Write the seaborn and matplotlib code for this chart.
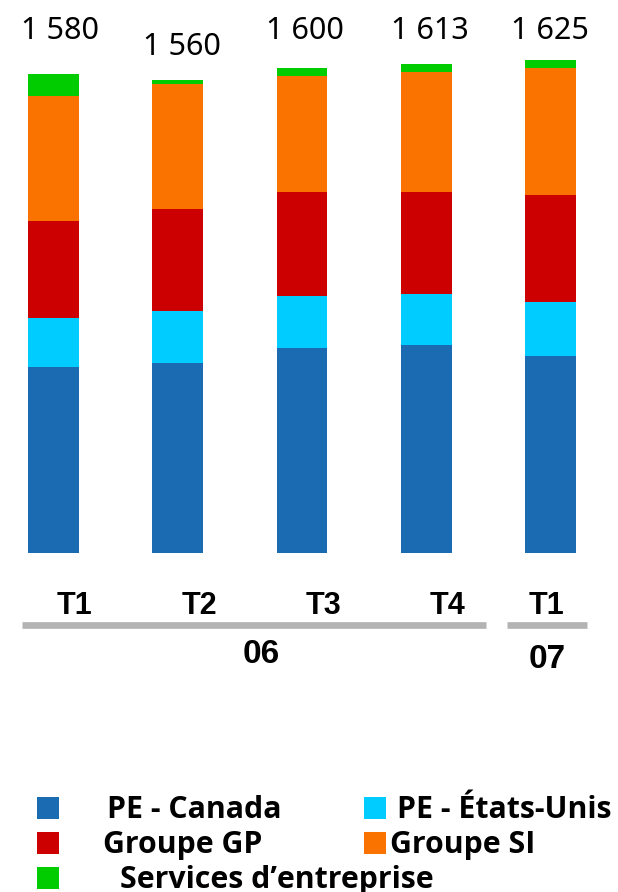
import matplotlib
matplotlib.use("Agg")
import matplotlib.pyplot as plt
from matplotlib.lines import Line2D
from matplotlib.patches import Rectangle
import numpy as np
import pandas as pd
import seaborn as sns

# ---- data ----
periods = ["T1-06", "T2-06", "T3-06", "T4-06", "T1-07"]
quarter_labels = ["T1", "T2", "T3", "T4", "T1"]
year_labels = ["06", "07"]
totals = [1580, 1560, 1600, 1613, 1625]
total_labels = ["1 580", "1 560", "1 600", "1 613", "1 625"]
pe_canada = [614, 628, 678, 685, 650]
pe_usa = [162, 171, 171, 171, 178]
groupe_gp = [320, 336, 343, 336, 353]
groupe_si = [412, 412, 382, 395, 418]
services = [72, 13, 26, 26, 26]
series_names = ["PE - Canada", "PE - États-Unis", "Groupe GP", "Groupe SI",
                "Services d\u2019entreprise"]
colors = ["#1A6BB1", "#00CCFF", "#CC0000", "#FA7300", "#00CC00"]

# ---- styling helpers ----
sns.set_style("white")
plt.rcParams["text.color"] = "black"
W, H = 618, 892
fig = plt.figure(figsize=(W / 100, H / 100), dpi=100)

px_per_unit_x = 124.25
x0_px = 53.5
xlim = (-0.4, 4.4)
left_px = x0_px + xlim[0] * px_per_unit_x
width_px = (xlim[1] - xlim[0]) * px_per_unit_x
base_px = 553.3
ytop = 1700
px_per_val = 0.30348
height_px = ytop * px_per_val
ax = fig.add_axes([left_px / W, (H - base_px) / H, width_px / W, height_px / H])

df = pd.DataFrame({"period": periods,
                   series_names[0]: pe_canada,
                   series_names[1]: pe_usa,
                   series_names[2]: groupe_gp,
                   series_names[3]: groupe_si,
                   series_names[4]: services})
cum = df[series_names].cumsum(axis=1)
for name, col in reversed(list(zip(series_names, colors))):
    sns.barplot(x=df["period"], y=cum[name], order=periods, color=col,
                saturation=1, width=0.41, linewidth=0, errorbar=None, ax=ax)

ax.set_xlim(*xlim)
ax.set_ylim(0, ytop)
ax.set_xticks([])
ax.set_yticks([])
ax.set_xlabel("")
ax.set_ylabel("")
for s in ax.spines.values():
    s.set_visible(False)

val_font = ["Noto Sans", "DejaVu Sans"]
bold_font = ["Liberation Sans", "DejaVu Sans"]
leg_font = ["Open Sans", "DejaVu Sans"]

# total labels
label_dx = [6.5, 4, 2.5, 3.5, -0.5]
label_top_px = [39, 55, 39, 39, 39]
for i, (t, lab) in enumerate(zip(totals, total_labels)):
    bar_top = base_px - t * px_per_val
    ax.annotate(lab, (i, t), xytext=(label_dx[i], bar_top - label_top_px[i]),
                textcoords="offset pixels", ha="center", va="baseline",
                fontsize=22, family=val_font, color="black", annotation_clip=False)

# quarter labels
q_dx = [21, 21.5, 21.5, 21.5, -4.5]
for i, q in enumerate(quarter_labels):
    ax.annotate(q, (i, 0), xytext=(q_dx[i], -(614 - base_px)),
                textcoords="offset pixels", ha="center", va="baseline",
                fontsize=22, fontweight="bold", family=bold_font,
                color="black", annotation_clip=False)

# year group lines
for (xa, xb) in [(22, 486), (507, 587)]:
    fig.add_artist(Line2D([xa / W, xb / W], [1 - 625.3 / H] * 2,
                          transform=fig.transFigure, lw=4.8,
                          color="#B3B3B3", solid_capstyle="butt"))
for lab, cx, by in zip(year_labels, [261, 547], [663, 667.5]):
    fig.text(cx / W, 1 - by / H, lab, ha="center", va="baseline",
             fontsize=24, fontweight="bold", family=bold_font, color="black")

# legend (manual layout)
leg_items = [
    (0, 37, 797, 107),
    (1, 364, 797, 397),
    (2, 37, 832, 103),
    (3, 364, 832, 390),
    (4, 37, 867, 120),
]
for idx, sx, sy, tx in leg_items:
    fig.add_artist(Rectangle((sx / W, 1 - (sy + 22) / H), 22 / W, 22 / H,
                             transform=fig.transFigure, facecolor=colors[idx],
                             edgecolor="none"))
    fig.text(tx / W, 1 - (sy + 21) / H, series_names[idx], ha="left",
             va="baseline", fontsize=21.8, fontweight="bold", family=leg_font,
             color="black")

fig.savefig("out.png", dpi=100, facecolor="white")
